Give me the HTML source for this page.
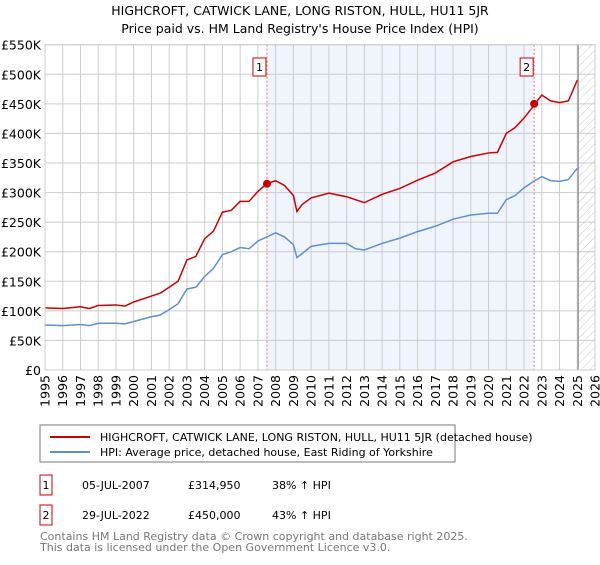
<!DOCTYPE html>
<html><head><meta charset="utf-8"><style>
body{margin:0;background:#fff;font-family:"Liberation Sans","DejaVu Sans",sans-serif}
svg text{font-family:"DejaVu Sans","Liberation Sans",sans-serif}
</style></head><body>
<svg id="c" width="600" height="560" xmlns="http://www.w3.org/2000/svg">
<defs><pattern id="hatch" width="6" height="6" patternUnits="userSpaceOnUse" patternTransform="rotate(45)"><line x1="0" y1="0" x2="0" y2="6" stroke="#bbb" stroke-width="0.8"/></pattern></defs>
<text x="300" y="15" text-anchor="middle" font-size="12.5" fill="#000">HIGHCROFT, CATWICK LANE, LONG RISTON, HULL, HU11 5JR</text>
<text x="300" y="33" text-anchor="middle" font-size="12.5" fill="#000">Price paid vs. HM Land Registry's House Price Index (HPI)</text>
<g id="plot"></g>
<rect x="40" y="425" width="415" height="37" fill="#fff" stroke="#777"/>
<line x1="50" y1="437" x2="90" y2="437" stroke="#cc0000" stroke-width="2"/>
<text x="100" y="441" font-size="11">HIGHCROFT, CATWICK LANE, LONG RISTON, HULL, HU11 5JR (detached house)</text>
<line x1="50" y1="452" x2="90" y2="452" stroke="#5f8fd0" stroke-width="2"/>
<text x="100" y="456" font-size="11">HPI: Average price, detached house, East Riding of Yorkshire</text>
<rect x="40" y="475" width="12" height="20" fill="#fff" stroke="#cc0000"/>
<text x="46" y="489" font-size="11" text-anchor="middle">1</text>
<text x="82" y="489" font-size="11">05-JUL-2007</text>
<text x="188" y="489" font-size="11">£314,950</text>
<text x="272" y="489" font-size="11">38% ↑ HPI</text>
<rect x="40" y="505" width="12" height="20" fill="#fff" stroke="#cc0000"/>
<text x="46" y="519" font-size="11" text-anchor="middle">2</text>
<text x="82" y="519" font-size="11">29-JUL-2022</text>
<text x="188" y="519" font-size="11">£450,000</text>
<text x="272" y="519" font-size="11">43% ↑ HPI</text>
<text x="40" y="540" font-size="11" fill="#777">Contains HM Land Registry data © Crown copyright and database right 2025.</text>
<text x="40" y="551" font-size="11" fill="#777">This data is licensed under the Open Government Licence v3.0.</text>
</svg>
<script>
const years=[1995,1996,1997,1997.5,1998,1999,1999.5,2000,2001,2001.5,2002,2002.5,2003,2003.5,2004,2004.5,2005,2005.5,2006,2006.5,2007,2007.5,2008,2008.5,2009,2009.2,2009.5,2010,2011,2012,2012.5,2013,2014,2015,2016,2017,2018,2019,2020,2020.5,2021,2021.5,2022,2022.5,2023,2023.5,2024,2024.5,2025];
const hpi=[76,75,77,75,79,79,78,82,90,93,102,112,137,140,158,172,195,200,207,205,218,225,232,225,212,190,197,209,214,214,205,203,214,223,234,243,255,262,265,265,288,295,308,318,327,320,319,322,341];
const price=[105,104,107,104,109,110,108,115,125,130,140,150,186,192,222,235,267,270,285,285,302,315,320,312,295,268,280,291,299,293,288,283,297,307,321,333,352,361,367,368,400,410,426,445,465,455,452,455,490];
const saleYears=[2007.51,2022.57];
const salePrices=[314950,450000];
const saleLabels=["1","2"];
const yTicks=[0,50,100,150,200,250,300,350,400,450,500,550];
const xTicks=[];for(let y=1995;y<=2026;y++)xTicks.push(y);
const X0=45,X1=595,Y0=370,Y1=44.7;
const sx=y=>X0+(y-1995)/31*(X1-X0);
const sy=v=>Y0-v/550000*(Y0-Y1);
const NS="http://www.w3.org/2000/svg";
const g=document.getElementById('plot');
function mk(t,a){const e=document.createElementNS(NS,t);for(const k in a)e.setAttribute(k,a[k]);g.appendChild(e);return e;}
const sh=mk('rect',{x:sx(saleYears[0]),y:Y1,width:sx(saleYears[1])-sx(saleYears[0]),height:Y0-Y1,fill:'#f0f4fc'});


const ht=mk('rect',{x:sx(2025.05),y:Y1,width:X1-sx(2025.05),height:Y0-Y1,fill:'url(#hatch)'});


yTicks.forEach(v=>{
 const l=mk('line',{x1:X0,x2:X1,y1:sy(v*1000),y2:sy(v*1000),stroke:'#ccc','stroke-width':1});
 
 
 const t=mk('text',{x:X0-4,y:sy(v*1000)+5,'text-anchor':'end','font-size':'12.5'});
 t.textContent=v===0?'£0':'£'+v+'K';
 
 
});
xTicks.forEach(y=>{
 const l=mk('line',{x1:sx(y),x2:sx(y),y1:Y1,y2:Y0,stroke:'#ccc','stroke-width':1});
 
 
 const t=mk('text',{x:0,y:0,'text-anchor':'end','font-size':'12.5',transform:`translate(${sx(y)+4.5},${Y0+5}) rotate(-90)`});
 t.textContent=y;
 
 
});
const vl=mk('line',{x1:sx(2025.05),x2:sx(2025.05),y1:Y1,y2:Y0,stroke:'#888','stroke-width':1.2});


saleYears.forEach((y,i)=>{
 const l=mk('line',{x1:sx(y),x2:sx(y),y1:Y1,y2:Y0,stroke:'#f07070','stroke-width':1,'stroke-dasharray':'2,2'});
 
 
});
const hp=mk('polyline',{points:years.map((y,i)=>sx(y)+','+sy(hpi[i]*1000)).join(' '),fill:'none',stroke:'#5f8fd0','stroke-width':1.5});


const pp=mk('polyline',{points:years.map((y,i)=>sx(y)+','+sy(price[i]*1000)).join(' '),fill:'none',stroke:'#cc0000','stroke-width':1.5});


saleYears.forEach((y,i)=>{
 const c=mk('circle',{cx:sx(y),cy:sy(salePrices[i]),r:4,fill:'#cc0000'});
 
 
 const b=mk('rect',{x:sx(y)-14,y:58,width:13,height:18,fill:'#fff',stroke:'#cc0000'});
 
 
 const t=mk('text',{x:sx(y)-7.5,y:71,'text-anchor':'middle','font-size':'11'});
 t.textContent=saleLabels[i];
 
 
});
const fr=mk('rect',{x:X0,y:Y1,width:X1-X0,height:Y0-Y1,fill:'none',stroke:'#ccc'});


</script>
</body></html>
